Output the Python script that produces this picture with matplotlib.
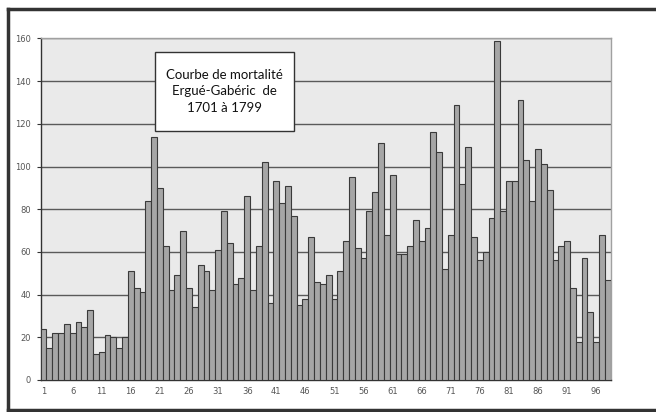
"""Courbe de mortalité, Ergué-Gabéric 1701-1799 -- Excel-style bar chart."""

import matplotlib

matplotlib.use("Agg")
import matplotlib.pyplot as plt
import matplotlib.patches as mpatches
from matplotlib.lines import Line2D

# ---------------------------------------------------------------------------
# Data (deaths per year, index 1 = 1701)
# ---------------------------------------------------------------------------
DEATHS = [
    24, 15, 22, 22, 26, 22, 27, 25, 33, 12,
    13, 21, 20, 15, 20, 51, 43, 41, 84, 114,
    90, 63, 42, 49, 70, 43, 34, 54, 51, 42,
    61, 79, 64, 45, 48, 86, 42, 63, 102, 36,
    93, 83, 91, 77, 35, 38, 67, 46, 45, 49,
    38, 51, 65, 95, 62, 57, 79, 88, 111, 68,
    96, 59, 59, 63, 75, 65, 71, 116, 107, 52,
    68, 129, 92, 109, 67, 56, 60, 76, 159, 79,
    93, 93, 131, 103, 84, 108, 101, 89, 56, 63,
    65, 43, 18, 57, 32, 18, 68, 47,
]
YEAR_INDEX = list(range(1, len(DEATHS) + 1))
X_TICKS = list(range(1, 97, 5))
Y_TICKS = list(range(0, 161, 20))
BOX_TEXT = "Courbe de mortalité\nErgué-Gabéric  de\n1701 à 1799"

BAR_COLOR = "#a6a6a6"
BAR_EDGE = "#3a3a3a"
PLOT_BG = "#eaeaea"
GRID_COLOR = "#5a5a5a"
LABEL_COLOR = "#555555"


def main():
    fig = plt.figure(figsize=(6.56, 4.12), dpi=100)
    fig.patch.set_facecolor("white")

    ax = fig.add_axes([0.062, 0.0777, 0.869, 0.829])
    ax.set_facecolor(PLOT_BG)

    ax.bar(YEAR_INDEX, DEATHS, width=1.0, color=BAR_COLOR,
           edgecolor=BAR_EDGE, linewidth=0.8, zorder=3)

    ax.set_xlim(0.5, len(DEATHS) + 0.5)
    ax.set_ylim(0, 160)
    ax.set_yticks(Y_TICKS)
    ax.set_xticks(X_TICKS)
    ax.set_xticklabels([str(t) for t in X_TICKS])
    ax.yaxis.grid(True, color=GRID_COLOR, linewidth=1.0, zorder=1)
    ax.set_axisbelow(True)

    ax.tick_params(axis="y", length=3, width=0.8, color="#333333",
                   labelsize=6, labelcolor=LABEL_COLOR, pad=4)
    ax.tick_params(axis="x", length=0, labelsize=6, labelcolor=LABEL_COLOR, pad=5)

    for side in ("top", "right"):
        ax.spines[side].set_color("#a0a0a0")
        ax.spines[side].set_linewidth(1.0)
    for side in ("left", "bottom"):
        ax.spines[side].set_color("#333333")
        ax.spines[side].set_linewidth(1.0)

    # Title box inside the plot area
    box = mpatches.Rectangle((0.2005, 0.729), 0.2435, 0.231,
                             transform=ax.transAxes, facecolor="white",
                             edgecolor="#333333", linewidth=1.0, zorder=5)
    ax.add_patch(box)
    ax.text(0.322, 0.846, BOX_TEXT, transform=ax.transAxes,
            ha="center", va="center", fontsize=9.5, family="Lato",
            linespacing=1.45, color="#111111", zorder=6)

    # Outer chart frame (left, top, bottom)
    frame_kw = dict(color="#333333", linewidth=2.5, transform=fig.transFigure)
    x0, y0, y1 = 7.5 / 656, 2.0 / 412, 403.5 / 412
    fig.add_artist(Line2D([x0, x0], [y0, y1], **frame_kw))
    fig.add_artist(Line2D([x0, 1.0], [y1, y1], **frame_kw))
    fig.add_artist(Line2D([x0, 1.0], [y0, y0], **frame_kw))

    fig.savefig("out.png", dpi=100, facecolor="white")
    plt.close(fig)


if __name__ == "__main__":
    main()
